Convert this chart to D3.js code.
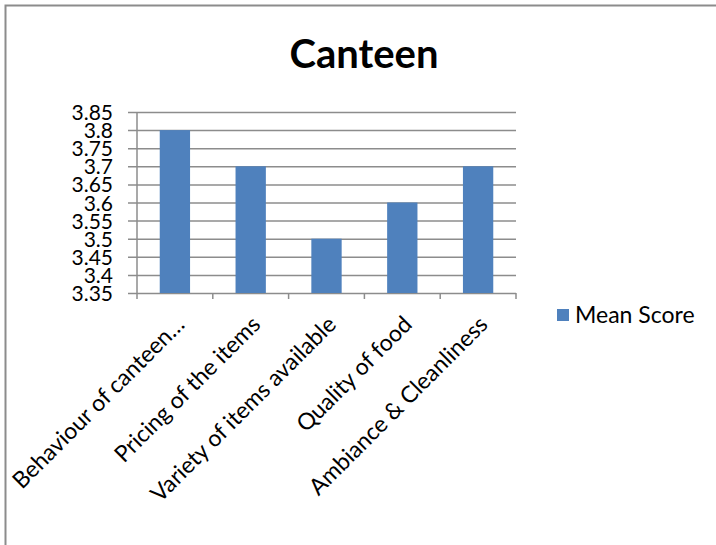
<!DOCTYPE html>
<html>
<head>
<meta charset="utf-8">
<script src="https://cdn.jsdelivr.net/npm/d3@7"></script>
<style>
  body { margin: 0; background: #fff; }
  svg { display: block; }
</style>
</head>
<body>
<script>
// Canteen survey: mean score per aspect
const categories = [
  "Behaviour of canteen\u2026",
  "Pricing of the items",
  "Variety of items available",
  "Quality of food",
  "Ambiance & Cleanliness"
];
const meanScores = [3.8, 3.7, 3.5, 3.6, 3.7];
const yTicks = [3.35, 3.4, 3.45, 3.5, 3.55, 3.6, 3.65, 3.7, 3.75, 3.8, 3.85];
const seriesName = "Mean Score";
const chartTitle = "Canteen";

const W = 716, H = 545;
const plot = { left: 137, right: 516, top: 112, bottom: 293 };
const font = "Lato, 'Open Sans', sans-serif";
const gridColor = "#8c8c8c";
const barColor = "#4F81BD";

const svg = d3.select("body").append("svg")
  .attr("width", W).attr("height", H);

// outer frame
svg.append("rect")
  .attr("x", 5.5).attr("y", 5.5)
  .attr("width", W + 10).attr("height", H + 10)
  .attr("fill", "#fff").attr("stroke", "#8c8c8c").attr("stroke-width", 2);

svg.append("text")
  .attr("x", 364).attr("y", 68)
  .attr("text-anchor", "middle")
  .attr("font-family", font).attr("font-weight", "bold")
  .attr("font-size", 40).attr("fill", "#000")
  .text(chartTitle);

const x = d3.scaleBand().domain(categories)
  .range([plot.left, plot.right]).paddingInner(0.6).paddingOuter(0.3);
const band = d3.scaleBand().domain(categories).range([plot.left, plot.right]);
const y = d3.scaleLinear().domain([3.35, 3.85]).range([plot.bottom, plot.top]);

// horizontal gridlines with left tick marks
const yAxis = d3.axisLeft(y).tickValues(yTicks)
  .tickSize(plot.right - plot.left + 9).tickFormat(d => d3.format("")(+d.toFixed(2)));
const gy = svg.append("g")
  .attr("transform", `translate(${plot.right},0)`)
  .call(yAxis);
gy.select(".domain").remove();
gy.selectAll(".tick line").attr("stroke", gridColor).attr("stroke-width", 1.5);
gy.selectAll(".tick text")
  .attr("x", -(plot.right - 113))
  .attr("dy", "0.36em")
  .attr("font-family", font).attr("font-size", 21).attr("fill", "#000")
  .attr("text-anchor", "end");

// bars
svg.append("g").selectAll("rect")
  .data(categories.map((c, i) => ({ c, v: meanScores[i] })))
  .join("rect")
  .attr("x", d => x(d.c))
  .attr("y", d => y(d.v))
  .attr("width", x.bandwidth())
  .attr("height", d => y(3.35) - y(d.v))
  .attr("fill", barColor);

// vertical axis line
svg.append("line")
  .attr("x1", plot.left).attr("x2", plot.left)
  .attr("y1", plot.top).attr("y2", plot.bottom)
  .attr("stroke", gridColor).attr("stroke-width", 1.5);

// category boundary ticks below the baseline
const bounds = categories.map(c => band(c)).concat([plot.right]);
svg.append("g").selectAll("line")
  .data(bounds).join("line")
  .attr("x1", d => d).attr("x2", d => d)
  .attr("y1", plot.bottom).attr("y2", plot.bottom + 6)
  .attr("stroke", gridColor).attr("stroke-width", 1.5);

// rotated category labels
svg.append("g").selectAll("text")
  .data(categories).join("text")
  .attr("transform", c => `translate(${band(c) + band.bandwidth() / 2 + 11},${plot.bottom + 33}) rotate(-45)`)
  .attr("text-anchor", "end")
  .attr("font-family", font).attr("font-size", 23).attr("fill", "#000")
  .text(c => c);

// legend
const lg = svg.append("g").attr("transform", "translate(557,309)");
lg.append("rect").attr("width", 12).attr("height", 12).attr("fill", barColor);
lg.append("text").attr("x", 18).attr("y", 14)
  .attr("font-family", font).attr("font-size", 23).attr("fill", "#000")
  .text(seriesName);
</script>
</body>
</html>
